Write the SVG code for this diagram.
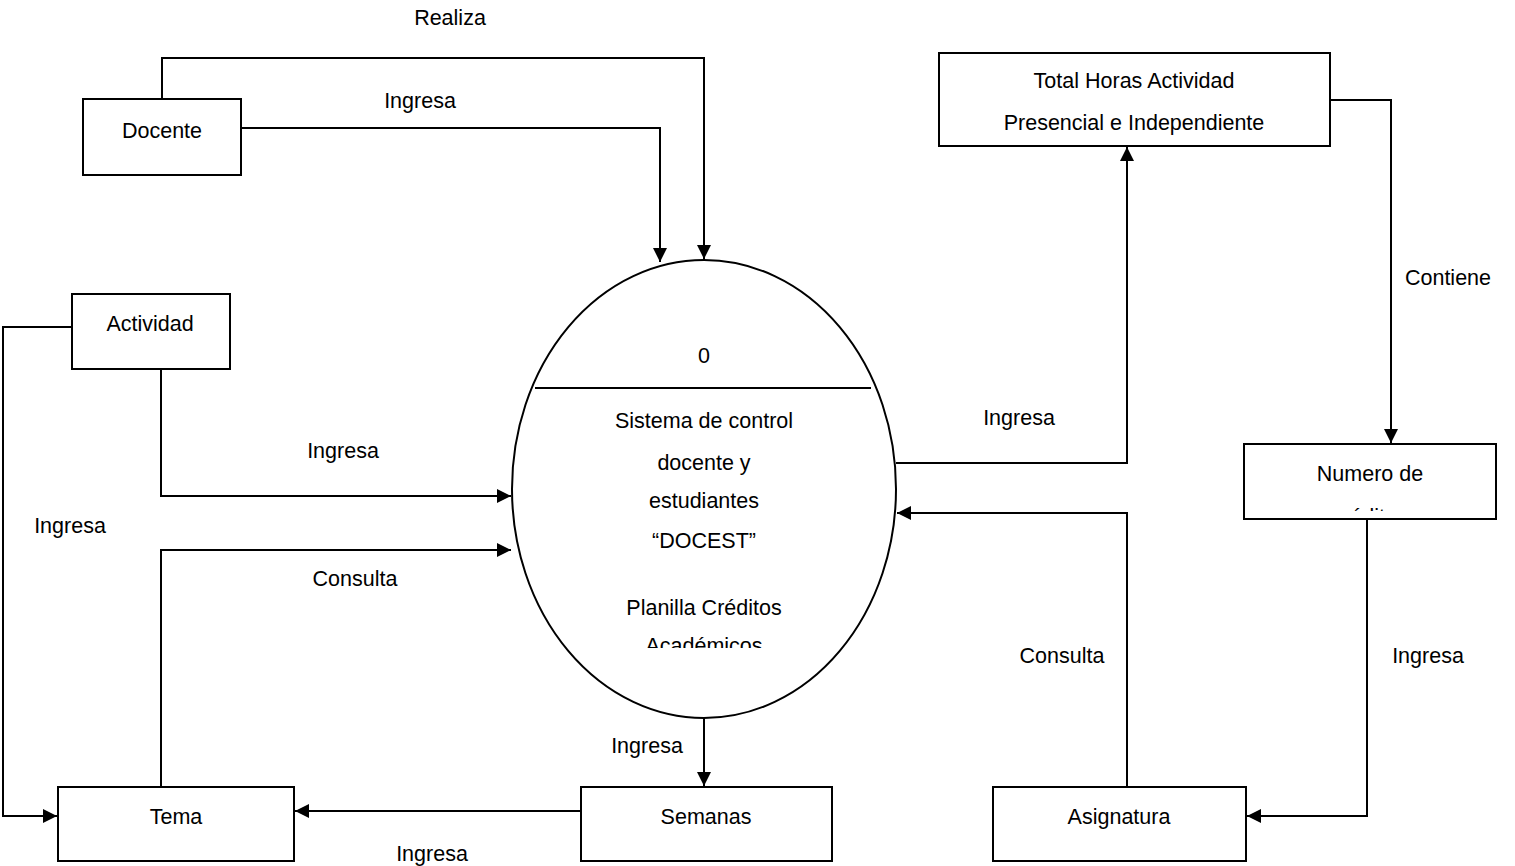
<svg xmlns="http://www.w3.org/2000/svg" width="1515" height="866" viewBox="0 0 1515 866">
<style>
.box{fill:#fff;stroke:#000;stroke-width:2}
.ln{fill:none;stroke:#000;stroke-width:2}
text{font-family:"Liberation Sans",Arial,sans-serif;font-size:21.5px;fill:#000;text-anchor:middle}
</style>
<defs>
<marker id="ar" viewBox="0 0 14 14" refX="14" refY="7" markerWidth="14" markerHeight="14" markerUnits="userSpaceOnUse" orient="auto">
<path d="M0,0 L14,7 L0,14 Z" fill="#000"/>
</marker>
<clipPath id="clipNum"><rect x="1244" y="444" width="252" height="67"/></clipPath>
<clipPath id="clipEll"><rect x="512" y="260" width="384" height="388"/></clipPath>
</defs>
<rect width="1515" height="866" fill="#fff"/>

<g id="connectors">
<path class="ln" d="M162,99 V58 H704 V259" marker-end="url(#ar)"/>
<path class="ln" d="M241,128 H660 V262" marker-end="url(#ar)"/>
<path class="ln" d="M72,327 H3 V816 H57" marker-end="url(#ar)"/>
<path class="ln" d="M161,369 V496 H511" marker-end="url(#ar)"/>
<path class="ln" d="M161,787 V550 H511" marker-end="url(#ar)"/>
<path class="ln" d="M704,718 V786" marker-end="url(#ar)"/>
<path class="ln" d="M581,811 H295" marker-end="url(#ar)"/>
<path class="ln" d="M896,463 H1127 V147" marker-end="url(#ar)"/>
<path class="ln" d="M1330,100 H1391 V443" marker-end="url(#ar)"/>
<path class="ln" d="M1367,519 V816 H1247" marker-end="url(#ar)"/>
<path class="ln" d="M1127,787 V513 H897" marker-end="url(#ar)"/>
<text x="450" y="25">Realiza</text>
<text x="420" y="108">Ingresa</text>
<text x="343" y="458">Ingresa</text>
<text x="70" y="533">Ingresa</text>
<text x="355" y="586">Consulta</text>
<text x="647" y="753">Ingresa</text>
<text x="432" y="861">Ingresa</text>
<text x="1019" y="425">Ingresa</text>
<text x="1448" y="285">Contiene</text>
<text x="1428" y="663">Ingresa</text>
<text x="1062" y="663">Consulta</text>
</g>

<g id="docente">
<rect class="box" x="83" y="99" width="158" height="76"/>
<text x="162" y="138">Docente</text>
</g>
<g id="actividad">
<rect class="box" x="72" y="294" width="158" height="75"/>
<text x="150" y="331">Actividad</text>
</g>
<g id="tema">
<rect class="box" x="58" y="787" width="236" height="74"/>
<text x="176" y="824">Tema</text>
</g>
<g id="semanas">
<rect class="box" x="581" y="787" width="251" height="74"/>
<text x="706" y="824">Semanas</text>
</g>
<g id="asignatura">
<rect class="box" x="993" y="787" width="253" height="74"/>
<text x="1119" y="824">Asignatura</text>
</g>
<g id="total">
<rect class="box" x="939" y="53" width="391" height="93"/>
<text x="1134" y="88">Total Horas Actividad</text>
<text x="1134" y="130">Presencial e Independiente</text>
</g>
<g id="numero">
<rect class="box" x="1244" y="444" width="252" height="75"/>
<g clip-path="url(#clipNum)">
<text x="1370" y="481">Numero de</text>
<text x="1370" y="524">créditos</text>
</g>
</g>
<g id="proceso">
<ellipse cx="704" cy="489" rx="192" ry="229" fill="#fff" stroke="#000" stroke-width="2"/>
<line x1="535" y1="388" x2="871" y2="388" stroke="#000" stroke-width="2"/>
<text x="704" y="363">0</text>
<g clip-path="url(#clipEll)">
<text x="704" y="428">Sistema de control</text>
<text x="704" y="470">docente y</text>
<text x="704" y="508">estudiantes</text>
<text x="704" y="548">“DOCEST”</text>
<text x="704" y="615">Planilla Créditos</text>
<text x="704" y="653">Académicos</text>
</g>
</g>
</svg>
